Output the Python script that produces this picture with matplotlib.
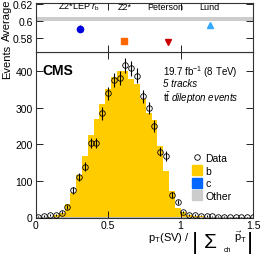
import matplotlib
matplotlib.use('Agg')
import matplotlib.pyplot as plt
import numpy as np
from matplotlib.patches import Patch
from matplotlib.lines import Line2D

plt.rcParams['font.family'] = ['Liberation Sans', 'DejaVu Sans']
plt.rcParams['mathtext.fontset'] = 'custom'
plt.rcParams['mathtext.rm'] = 'Liberation Sans'
plt.rcParams['mathtext.it'] = 'Liberation Sans:italic'
plt.rcParams['mathtext.bf'] = 'Liberation Sans:bold'

# Datos
ancho_bin = 0.04
datos = [2, 4, 6, 8, 13, 29, 74, 111, 139, 203, 203, 284, 339, 375, 380, 416, 407, 387,
         331, 299, 249, 180, 168, 61, 42, 15, 8, 6, 5, 4, 3, 2, 2, 1, 1, 1, 1, 1]
err_datos = [1.4, 2, 2.4, 2.8, 3.6, 5.4, 8.6, 10.5, 11.8, 14.2, 14.2, 16.9, 18.4, 19.4,
             19.5, 20.4, 20.2, 19.7, 18.2, 17.3, 15.8, 13.4, 13, 7.8, 6.5, 3.9, 2.8, 2.4,
             2.2, 2, 1.7, 1.4, 1.4, 1, 1, 1, 1, 1]
mc_b = [0.3, 0.6, 1.5, 5.5, 12, 35, 65, 115, 165, 222, 267, 307, 348, 380, 398, 398, 377,
        363, 322, 282, 265, 192, 124, 72, 25, 14, 5.5, 4, 3, 2.2, 1.5, 1.2, 0.6, 0.5, 0.5,
        0.5, 0.5, 0.5]
mc_c = [0.0, 0.0, 0.1, 0.1, 0.1, 0.2, 0.2, 0.2, 0.2, 0.2, 0.2, 0.2, 0.2, 0.2, 0.2, 0.2,
        0.2, 0.2, 0.2, 0.2, 0.2, 0.2, 0.2, 0.1, 0.1, 0.1, 0.0, 0.0, 0.0, 0.0, 0.0, 0.0,
        0.0, 0.0, 0.0, 0.0, 0.0, 0.0]
mc_otros = [0.3, 0.5, 0.8, 1.0, 1.2, 1.5, 1.8, 2.0, 2.0, 2.0, 2.0, 2.0, 2.0, 2.0, 2.0,
            2.0, 2.0, 2.0, 2.0, 2.0, 2.0, 1.8, 1.5, 1.2, 1.0, 0.8, 0.6, 0.5, 0.4, 0.3,
            0.3, 0.3, 0.3, 0.3, 0.3, 0.3, 0.3, 0.3]

# Panel superior: promedios por modelo
modelos = ['Z2*LEP $r_\\mathrm{b}$', 'Z2*', 'Peterson', 'Lund']
promedios = [0.5911, 0.5759, 0.5757, 0.5951]
err_promedios = [0.0045, 0.0, 0.0, 0.0]
banda_datos = (0.600, 0.605)

pos_modelos = [0.307, 0.61, 0.914, 1.20]
pos_etiquetas = [0.30, 0.615, 0.895, 1.20]
marcadores = ['o', 's', 'v', '^']
colores_modelos = ['#0000dd', '#ff6600', '#cc0000', '#33aaff']

datos = np.array(datos)
mc_b = np.array(mc_b)
mc_c = np.array(mc_c)
mc_otros = np.array(mc_otros)
bordes = np.arange(len(datos) + 1) * ancho_bin
centros = bordes[:-1] + ancho_bin / 2

fig = plt.figure(figsize=(2.66, 2.55), dpi=100)
W, H = 266, 255
ax = fig.add_axes([35.5 / W, 1 - 218.5 / H, 217.5 / W, 166 / H])
ax_top = fig.add_axes([35.5 / W, 1 - 52.5 / H, 217.5 / W, 49 / H])

# Histograma apilado
base_b = mc_otros + mc_c
ax.stairs(mc_otros, bordes, baseline=0, fill=True, color='#bbbbbb', lw=0)
ax.stairs(base_b, bordes, baseline=mc_otros, fill=True, color='#0066ff', lw=0)
ax.stairs(base_b + mc_b, bordes, baseline=base_b, fill=True, color='#ffcc00', lw=0)

ax.errorbar(centros, datos, yerr=err_datos, fmt='o', mfc='none', mec='black', mew=0.6,
            ms=4, ecolor='black', elinewidth=0.8, capsize=0, zorder=5)

ax.set_xlim(0, 1.5)
ax.set_ylim(0, 453)
ax.set_xticks([0, 0.5, 1, 1.5])
ax.set_xticklabels(['0', '0.5', '1', '1.5'])
ax.set_yticks([0, 100, 200, 300, 400])
ax.tick_params(direction='in', top=True, right=True, length=5, width=0.6, labelsize=7.5,
               pad=2)
for s in ax.spines.values():
    s.set_linewidth(0.8)
    s.set_color('#333333')

ax.text(0.03, 0.93, 'CMS', transform=ax.transAxes, fontsize=10, fontweight='bold',
        va='top', ha='left')
ax.text(0.585, 0.93, '19.7 fb$^{-1}$ (8 TeV)', transform=ax.transAxes, fontsize=7,
        va='top', ha='left')
ax.text(0.585, 0.84, '5 tracks', transform=ax.transAxes, fontsize=7, style='italic',
        va='top', ha='left')
ax.text(0.585, 0.772, r'$\mathrm{t\bar{t}}$ $\it{dilepton\ events}$', transform=ax.transAxes,
        fontsize=7, va='top', ha='left')

handles = [Line2D([], [], marker='o', ls='none', mfc='none', mec='black', ms=4, mew=0.6),
           Patch(color='#ffcc00'), Patch(color='#0066ff'), Patch(color='#cccccc')]
ax.legend(handles, ['Data', 'b', 'c', 'Other'], loc='upper left',
          bbox_to_anchor=(0.69, 0.43), frameon=False, fontsize=7.5, handlelength=1.0,
          handleheight=1.1, handletextpad=0.3, labelspacing=0.2, borderpad=0.1)

# Etiqueta del eje x armada por partes (sumatoria grande)
fig.text(148 / W, 1 - 241 / H, r'p$_\mathrm{T}$(SV) /', fontsize=8, va='baseline',
         ha='left')
fig.text(195 / W, 1 - 243 / H, '|', fontsize=17, va='center', ha='center')
fig.text(210 / W, 1 - 243 / H, '\u03a3', fontsize=15, va='center', ha='center')
fig.text(227 / W, 1 - 251 / H, 'ch', fontsize=5, va='center', ha='center')
fig.text(234 / W, 1 - 241 / H, r'$\vec{\mathrm{p}}_\mathrm{T}$', fontsize=8,
         va='baseline', ha='left')
fig.text(250 / W, 1 - 243 / H, '|', fontsize=17, va='center', ha='center')

# Panel superior
ax_top.axhspan(banda_datos[0], banda_datos[1], color='#cccccc', lw=0)
for x, y, e, m, c in zip(pos_modelos, promedios, err_promedios, marcadores, colores_modelos):
    ax_top.errorbar([x], [y], yerr=[e] if e > 0 else None, fmt=m, color=c, ms=4.5,
                    elinewidth=1.0, capsize=0)
for x, t in zip(pos_etiquetas, modelos):
    ax_top.text(x, 0.617, t, ha='center', va='center', fontsize=6.5)
ax_top.set_xlim(0, 1.5)
ax_top.set_ylim(0.564, 0.622)
ax_top.set_xticks([0.5, 1.0])
ax_top.set_xticklabels([])
ax_top.set_yticks([0.58, 0.6, 0.62])
ax_top.set_yticklabels(['0.58', '0.6', '0.62'])
ax_top.tick_params(direction='in', top=True, right=True, length=5, width=0.6,
                   labelsize=7.5, pad=2)
for s in ax_top.spines.values():
    s.set_linewidth(0.8)
    s.set_color('#333333')

fig.text(7 / W, 1 - 61.5 / H, 'Events', rotation=90, ha='center', va='center', fontsize=8)
fig.text(7 / W, 1 - 20 / H, 'Average', rotation=90, ha='center', va='center', fontsize=8)

fig.savefig('out.png', dpi=100)
